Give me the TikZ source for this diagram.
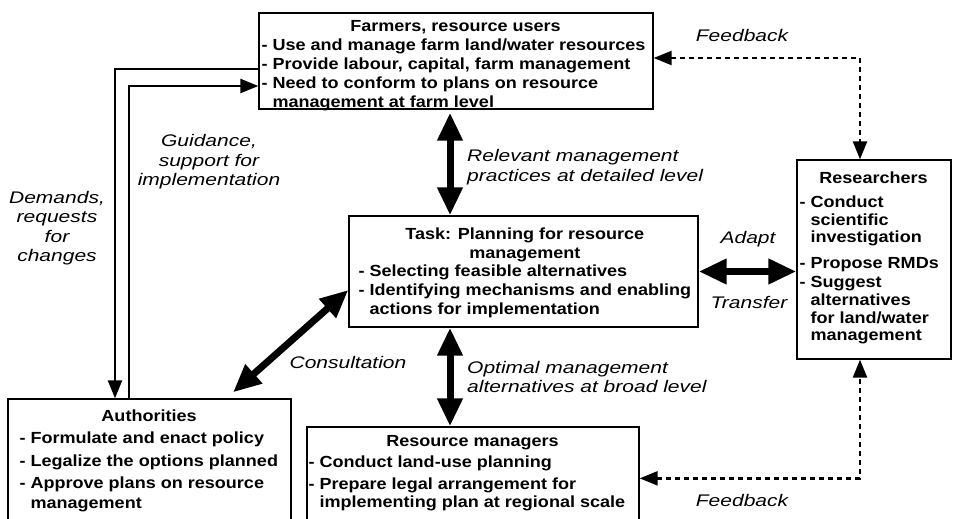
\documentclass[tikz,border=0pt]{standalone}
\usepackage{fontspec}
\setmainfont{Liberation Sans}[FakeStretch=1.12]
\newfontfamily\lblfont{Liberation Sans}[FakeStretch=1.25]
\usetikzlibrary{arrows.meta}

\newcommand{\hgap}{\hphantom{- }}

\begin{document}
\begin{tikzpicture}[x=1pt,y=-1pt]
		\tikzstyle{box} = [draw, line width=1.3pt, rectangle, inner sep=0pt]
		\tikzstyle{txt} = [inner sep=0pt, anchor=base west, font=\bfseries]
		\tikzstyle{lbl} = [inner sep=0pt, font=\lblfont\itshape\fontsize{16.8}{19.5}\selectfont]
		\tikzstyle{bigarrow} = [line width=7pt, {Triangle[length=28pt,width=24pt]}-{Triangle[length=28pt,width=24pt]}]
		\tikzstyle{thinarrow} = [line width=2.3pt, -{Triangle[length=18pt,width=14pt]}]
		\tikzstyle{fbarrow} = [line width=2.3pt, dash pattern=on 5pt off 4pt, {Triangle[length=18pt,width=14pt]}-{Triangle[length=18pt,width=14pt]}]
		\useasboundingbox (0,0) rectangle (953,519);
		\clip (0,0) rectangle (953,519);

		\node [box, minimum width=394pt, minimum height=96pt] (farm) at (456,61) {};
		\node [box, minimum width=349pt, minimum height=111pt] (task) at (523.5,271.5) {};
		\node [box, minimum width=154pt, minimum height=199pt] (res) at (874,259.5) {};
		\node [box, minimum width=283pt, minimum height=140pt] (auth) at (149.5,469) {};
		\node [box, minimum width=332pt, minimum height=110pt] (mgr) at (473,482) {};

		\node [txt] (farmtxt) at ([xshift=3pt,yshift=-19pt]farm.north west) {\fontsize{16.1}{19}\selectfont
			\begin{tabular}[t]{@{}l@{}}
			\multicolumn{1}{@{}c@{}}{\makebox[388pt]{Farmers, resource users}}\\
			- Use and manage farm land/water resources\\
			- Provide labour, capital, farm management\\
			- Need to conform to plans on resource\\
			\hgap management at farm level
			\end{tabular}};
		\node [txt] (tasktxt) at ([xshift=10pt,yshift=-24pt]task.north west) {\fontsize{16.1}{18.75}\selectfont
			\begin{tabular}[t]{@{}l@{}}
			\multicolumn{1}{@{}c@{}}{\makebox[329pt]{Task: Planning for resource}}\\
			\multicolumn{1}{@{}c@{}}{\makebox[329pt]{management}}\\
			- Selecting feasible alternatives\\
			- Identifying mechanisms and enabling\\
			\hgap actions for implementation
			\end{tabular}};
		\node [txt] (restxt) at ([xshift=3pt,yshift=-24.5pt]res.north west) {\fontsize{16.1}{17.7}\selectfont
			\begin{tabular}[t]{@{}l@{}}
			\multicolumn{1}{@{}c@{}}{\makebox[148pt]{Researchers}}\\[6pt]
			- Conduct\\
			\hgap scientific\\
			\hgap investigation\\[8pt]
			- Propose RMDs\\[1.5pt]
			- Suggest\\
			\hgap alternatives\\
			\hgap for land/water\\
			\hgap management
			\end{tabular}};
		\node [txt] (authtxt) at ([xshift=12pt,yshift=-23pt]auth.north west) {\fontsize{16.1}{20}\selectfont
			\begin{tabular}[t]{@{}l@{}}
			\multicolumn{1}{@{}c@{}}{\makebox[259pt]{Authorities}}\\[2.5pt]
			- Formulate and enact policy\\[2.5pt]
			- Legalize the options planned\\[2.5pt]
			- Approve plans on resource\\
			\hgap management
			\end{tabular}};
		\node [txt] (mgrtxt) at ([xshift=2pt,yshift=-20pt]mgr.north west) {\fontsize{16.1}{18.5}\selectfont
			\begin{tabular}[t]{@{}l@{}}
			\multicolumn{1}{@{}c@{}}{\makebox[328pt]{Resource managers}}\\[3pt]
			- Conduct land-use planning\\[3pt]
			- Prepare legal arrangement for\\
			\hgap implementing plan at regional scale
			\end{tabular}};

		\node [lbl] (fbtop) at (742,35) {Feedback};
		\node [lbl, anchor=west, align=left] (relev) at (467,167) {Relevant management\\practices at detailed level};
		\node [lbl, anchor=west, align=left] (optim) at (467,377) {Optimal management\\alternatives at broad level};
		\node [lbl, align=center] (guide) at (209,162) {Guidance,\\support for\\implementation};
		\node [lbl, align=center] (demand) at (57,228) {Demands,\\requests\\for\\changes};
		\node [lbl] (consult) at (348,362) {Consultation};
		\node [lbl] (adapt) at (748,239) {Adapt};
		\node [lbl] (transf) at (749,302) {Transfer};
		\node [lbl] (fbbot) at (742,500) {Feedback};

		\coordinate (up) at ([xshift=-73.5pt]task.north);
		\coordinate (down) at ([xshift=-73.5pt]task.south);

		\draw[bigarrow, shorten <=3pt] (up |- farm.south) -- (up);
		\draw[bigarrow] (down) -- (down |- mgr.north);
		\draw[bigarrow] (task.east) -- (task.east -| res.west);
		\draw[bigarrow] ([xshift=83.5pt,yshift=6pt]auth.north) -- ([yshift=-18.5pt]task.west);
		\draw[thinarrow] ([yshift=-8pt]farm.west) -| ([xshift=-34.5pt]auth.north);
		\draw[thinarrow] ([xshift=-20.5pt]auth.north) |- ([yshift=-25pt]farm.west);
		\draw[fbarrow] ([yshift=3pt]farm.east) -| ([xshift=-14pt]res.north);
		\draw[fbarrow] ([yshift=-52pt]mgr.north east) -| ([xshift=-14pt]res.south);
	\end{tikzpicture}
\end{document}
